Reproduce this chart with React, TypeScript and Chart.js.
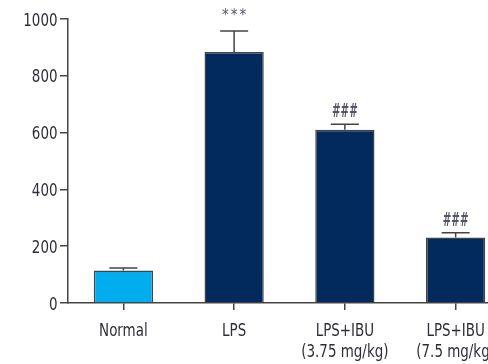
import React, { useEffect, useRef } from "react";
import { Chart, registerables } from "chart.js";

Chart.register(...registerables);

const categories: string[][] = [
  ["Normal"],
  ["LPS"],
  ["LPS+IBU", "(3.75 mg/kg)"],
  ["LPS+IBU", "(7.5 mg/kg)"],
];
const means = [114, 884, 610, 231];
const errors = [9, 74, 19, 16];
const marks = ["", "***", "###", "###"];
const barColors = ["#00aeef", "#022a5c", "#022a5c", "#022a5c"];
const yTicks = [0, 200, 400, 600, 800, 1000];

const FONT = "'DejaVu Sans Condensed', 'Liberation Sans Narrow', sans-serif";
const AXIS = "#444444";
const TEXT = "#2e2e3a";
const SQUEEZE = 0.83;

function squeezedText(ctx: any, text: string, x: number, y: number, align: string, sx: number) {
  ctx.save();
  ctx.translate(x, y);
  ctx.scale(sx, 1);
  ctx.textAlign = align;
  ctx.textBaseline = "alphabetic";
  ctx.fillText(text, 0, 0);
  ctx.restore();
}

const labelPlugin = {
  id: "squeezedLabels",
  afterDraw(chart: any) {
    const ctx = chart.ctx;
    const xs = chart.scales.x;
    const ys = chart.scales.y;
    const bottom = chart.chartArea.bottom;
    ctx.save();
    ctx.fillStyle = TEXT;
    ctx.font = `18px ${FONT}`;
    categories.forEach((lines, i) => {
      const x = xs.getPixelForValue(i);
      lines.forEach((line, j) => {
        squeezedText(ctx, line, x, bottom + 33 + j * 21, "center", SQUEEZE);
      });
    });
    yTicks.forEach((v) => {
      const y = ys.getPixelForValue(v);
      squeezedText(ctx, String(v), 57.5, y + 6.5, "right", SQUEEZE);
    });
    ctx.restore();
  },
};

const errorBarPlugin = {
  id: "errorBars",
  afterDatasetsDraw(chart: any) {
    const ctx = chart.ctx;
    const xs = chart.scales.x;
    const ys = chart.scales.y;
    ctx.save();
    ctx.strokeStyle = AXIS;
    ctx.lineWidth = 1.5;
    means.forEach((m, i) => {
      const x = xs.getPixelForValue(i);
      const yb = ys.getPixelForValue(m);
      const yt = ys.getPixelForValue(m + errors[i]);
      ctx.beginPath();
      ctx.moveTo(x, yb);
      ctx.lineTo(x, yt);
      ctx.moveTo(x - 14, yt);
      ctx.lineTo(x + 14, yt);
      ctx.stroke();
      const mark = marks[i];
      if (mark) {
        ctx.fillStyle = "#55556a";
        if (mark === "***") {
          ctx.font = `15px ${FONT}`;
          ctx.letterSpacing = "2px";
          ctx.textAlign = "center";
          ctx.textBaseline = "alphabetic";
          ctx.fillText(mark, x + 1, yt - 11);
          ctx.letterSpacing = "0px";
        } else {
          ctx.font = `bold 19px ${FONT}`;
          squeezedText(ctx, mark, x, yt - 7, "center", 0.6);
        }
      }
    });
    ctx.restore();
  },
};

export default function App() {
  const ref = useRef<HTMLCanvasElement | null>(null);
  useEffect(() => {
    if (!ref.current) return;
    const chart = new Chart(ref.current, {
      type: "bar",
      data: {
        labels: categories as any,
        datasets: [
          {
            data: means,
            backgroundColor: barColors,
            borderColor: AXIS,
            borderWidth: 1.5,
            categoryPercentage: 1,
            barPercentage: 0.535,
          },
        ],
      },
      options: {
        responsive: false,
        animation: false,
        devicePixelRatio: 1,
        layout: { padding: { left: 0, top: 19, right: 0, bottom: 0 } },
        plugins: { legend: { display: false }, tooltip: { enabled: false } },
        scales: {
          x: {
            grid: {
              display: true,
              drawOnChartArea: false,
              drawTicks: true,
              tickLength: 7,
              offset: false,
              color: AXIS,
              lineWidth: 1.5,
            },
            border: { display: true, color: AXIS, width: 1.5 },
            ticks: {
              color: "rgba(0,0,0,0)",
              font: { family: FONT, size: 12 },
              maxRotation: 0,
              autoSkip: false,
            },
            afterFit: (s: any) => {
              s.height = 61;
            },
          },
          y: {
            min: 0,
            max: 1000,
            grid: {
              display: true,
              drawOnChartArea: false,
              drawTicks: true,
              tickLength: 8,
              color: AXIS,
              lineWidth: 1.5,
            },
            border: { display: true, color: AXIS, width: 1.5 },
            afterBuildTicks: (s: any) => {
              s.ticks = yTicks.map((v) => ({ value: v }));
            },
            ticks: {
              color: "rgba(0,0,0,0)",
              font: { family: FONT, size: 15 },
              padding: 2,
              callback: (v: any) => String(v),
            },
            afterFit: (s: any) => {
              s.width = 68;
            },
          },
        },
      },
      plugins: [errorBarPlugin, labelPlugin],
    });
    return () => chart.destroy();
  }, []);
  return (
    <div
      style={{
        position: "absolute",
        left: 0,
        top: 0,
        width: 488,
        height: 364,
        overflow: "hidden",
        background: "#fff",
      }}
    >
      <canvas ref={ref} width={511} height={364} style={{ width: 511, height: 364, display: "block" }} />
    </div>
  );
}
